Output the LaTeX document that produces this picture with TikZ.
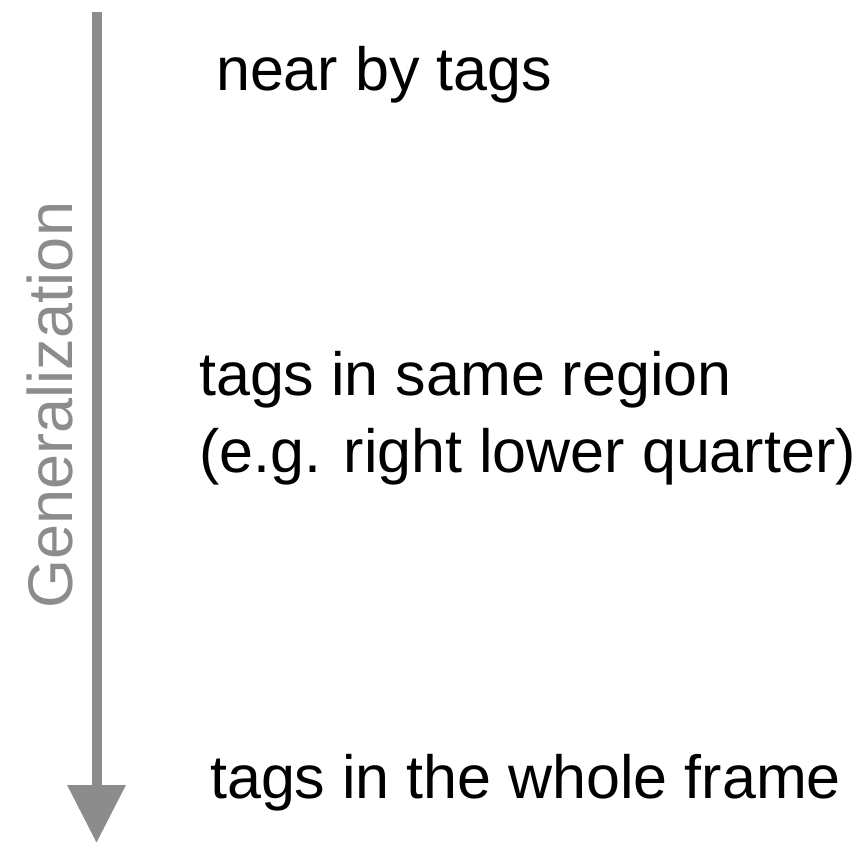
\documentclass[tikz,border=0pt]{standalone}
\usepackage{fontspec}
\setmainfont{Liberation Sans}
\usetikzlibrary{arrows.meta}
\definecolor{arrowgray}{HTML}{8C8C8C}
\tikzset{
  lbl/.style={inner sep=0pt, font=\fontsize{61}{77}\selectfont, text=black},
  axislbl/.style={inner sep=0pt, font=\fontsize{63}{75}\selectfont, text=arrowgray},
  axisarrow/.style={draw=arrowgray, line width=10pt, -{Triangle[width=56pt,length=58pt]}}
}
\begin{document}
\begin{tikzpicture}[x=1pt,y=-1pt]
\useasboundingbox (0,0) rectangle (856,843);
\coordinate (top) at (96.5,12);
\coordinate (bottom) at (96.5,843);
\draw[axisarrow] (top) -- (bottom);
\node[axislbl, rotate=90, anchor=base] (gen) at (72,405) {Generalization};
\node[lbl, anchor=base] (near) at (384,90) {near by tags};
\node[lbl, anchor=base west, align=left] (region) at (199,472) {tags in same region\\(e.g. right lower quarter)};
\node[lbl, anchor=base west] (whole) at (210,798) {tags in the whole frame};
\end{tikzpicture}
\end{document}
